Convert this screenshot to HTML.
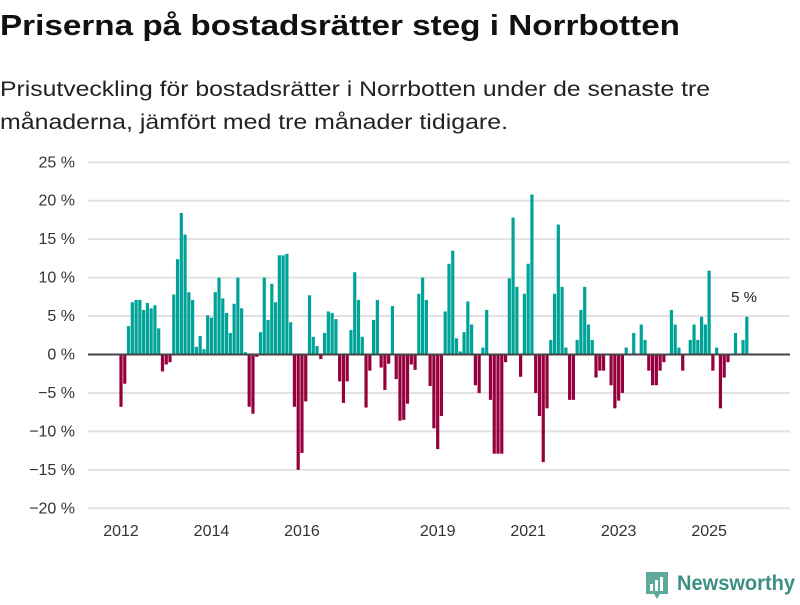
<!DOCTYPE html>
<html><head><meta charset="utf-8"><style>
body{margin:0;background:#fff;width:800px;height:600px;overflow:hidden;font-family:"Liberation Sans",sans-serif;}
</style></head><body>
<svg id="chart" width="800" height="600" viewBox="0 0 800 600" xmlns="http://www.w3.org/2000/svg" font-family="Liberation Sans, sans-serif">
<text x="0" y="35" font-size="29" font-weight="bold" fill="#111" textLength="680" lengthAdjust="spacingAndGlyphs">Priserna på bostadsrätter steg i Norrbotten</text>
<text x="0" y="96" font-size="21" fill="#222" textLength="710" lengthAdjust="spacingAndGlyphs">Prisutveckling för bostadsrätter i Norrbotten under de senaste tre</text>
<text x="0" y="129" font-size="21" fill="#222" textLength="508" lengthAdjust="spacingAndGlyphs">månaderna, jämfört med tre månader tidigare.</text>
<g id="grid"></g>
<g id="bars"></g>
<line x1="88" x2="790" y1="354.5" y2="354.5" stroke="#444" stroke-width="2"/>
<g id="xaxis"></g>
<text x="744" y="302" font-size="15" fill="#222" text-anchor="middle">5 %</text>
<g>
<path d="M646 572 h22 v22 h-8 l-3 5 l-3 -5 h-8 z" fill="#5fa89c"/>
<rect x="650" y="584" width="3" height="7" fill="#fff"/>
<rect x="655" y="580" width="3" height="11" fill="#fff"/>
<rect x="660" y="577" width="3" height="14" fill="#fff"/>
<text x="677" y="590" font-size="21" font-weight="bold" fill="#3d8f85" textLength="118" lengthAdjust="spacingAndGlyphs">Newsworthy</text>
</g>
</svg>
<script>
const yTicks=[25,20,15,10,5,0,-5,-10,-15,-20];
const yearLabels=["2012","2014","2016","2019","2021","2023","2025"];
const yearMonthIndex=[0,24,48,84,108,132,156];
const values=[-6.8,-3.8,3.7,6.8,7.1,7.1,5.8,6.7,6.0,6.4,3.4,-2.2,-1.3,-1.0,7.8,12.4,18.4,15.6,8.1,7.1,1.0,2.4,0.7,5.1,4.8,8.1,10.0,7.3,5.4,2.8,6.6,10.0,6.0,0.3,-6.8,-7.7,-0.3,2.9,10.0,4.5,9.2,6.8,12.9,12.9,13.1,4.2,-6.8,-15.0,-12.8,-6.1,7.7,2.3,1.1,-0.6,2.8,5.6,5.4,4.6,-3.5,-6.3,-3.5,3.2,10.7,7.1,2.3,-6.9,-2.1,4.5,7.1,-1.7,-4.6,-1.2,6.3,-3.2,-8.6,-8.5,-6.4,-1.3,-2.0,7.9,10.0,7.1,-4.1,-9.6,-12.3,-8.0,5.6,11.8,13.5,2.1,0.4,2.9,6.9,3.9,-4.0,-5.0,0.9,5.8,-5.9,-12.9,-12.9,-12.9,-1.0,9.9,17.8,8.8,-2.9,7.9,11.8,20.8,-5.0,-8.0,-14.0,-7.0,1.9,7.9,16.9,8.8,0.9,-5.9,-5.9,1.9,5.8,8.8,3.9,1.9,-3.0,-2.1,-2.1,0,-4.0,-7.0,-6.0,-5.0,0.9,0,2.8,0,3.9,1.9,-2.1,-4.0,-4.0,-2.1,-1.0,0,5.8,3.9,0.9,-2.1,0,1.9,3.9,1.9,4.9,3.9,10.9,-2.1,0.9,-7.0,-3.0,-1.0,0,2.8,0,1.9,4.9];
const NS="http://www.w3.org/2000/svg";
const y=v=>354.5-v*7.69;
const x=i=>121+i*3.77;
const grid=document.getElementById('grid');
yTicks.forEach(t=>{
 if(t!==0){const l=document.createElementNS(NS,'line');
 
 
 l.setAttribute('x1',88);l.setAttribute('x2',790);l.setAttribute('y1',y(t));l.setAttribute('y2',y(t));
 l.setAttribute('stroke','#e2e2e2');l.setAttribute('stroke-width','2');grid.appendChild(l);}
 const tx=document.createElementNS(NS,'text');
 
 
 tx.setAttribute('x',75);tx.setAttribute('y',y(t)+5);tx.setAttribute('text-anchor','end');
 tx.setAttribute('font-size','16');tx.setAttribute('fill','#333');
 tx.textContent=(t<0?'\u2212'+(-t):t)+' %';grid.appendChild(tx);
});
const bars=document.getElementById('bars');
values.forEach((v,i)=>{
 if(v===0)return;
 const r=document.createElementNS(NS,'rect');
 
 
 r.setAttribute('x',x(i)-1.6);r.setAttribute('width',3.2);
 r.setAttribute('y',Math.min(y(v),y(0)));r.setAttribute('height',Math.abs(y(v)-y(0)));
 r.setAttribute('fill',v>0?'#00a398':'#96003c');bars.appendChild(r);
});
const xa=document.getElementById('xaxis');
yearLabels.forEach((lab,k)=>{
 const tx=document.createElementNS(NS,'text');
 
 
 tx.setAttribute('x',x(yearMonthIndex[k]));tx.setAttribute('y',536);tx.setAttribute('text-anchor','middle');
 tx.setAttribute('font-size','16');tx.setAttribute('fill','#333');tx.textContent=lab;xa.appendChild(tx);
});
</script>
</body></html>
